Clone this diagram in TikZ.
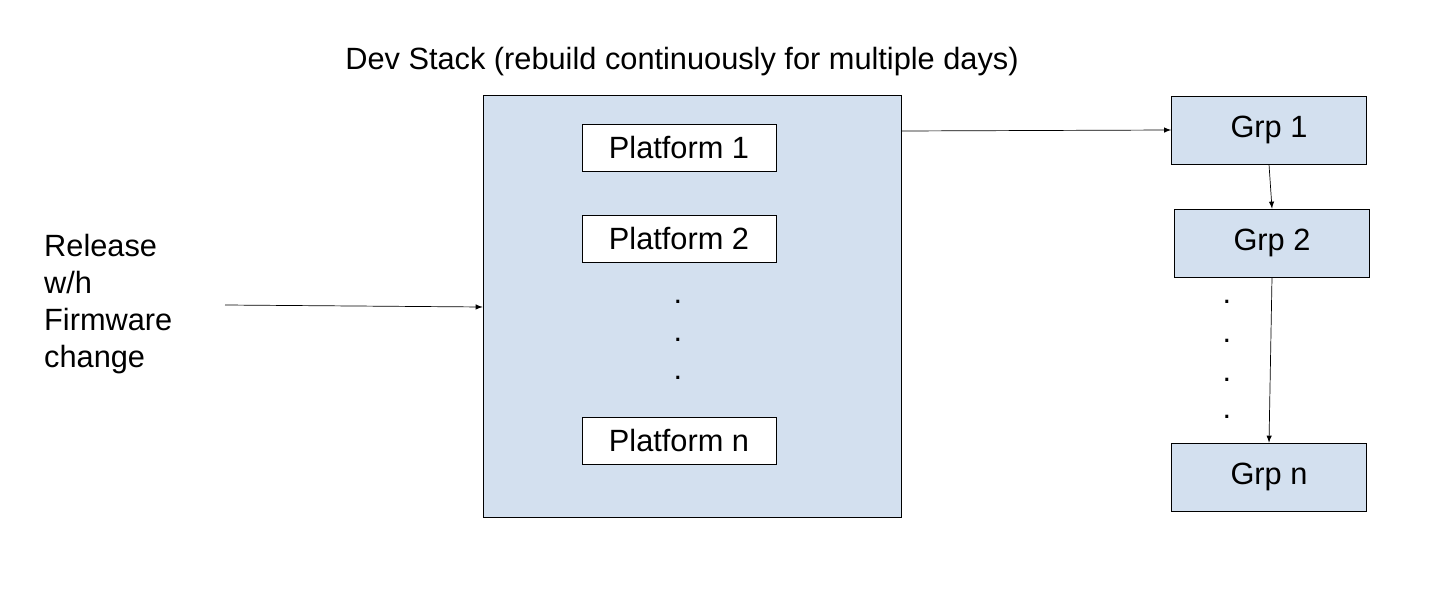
\documentclass[tikz,border=0pt]{standalone}
\usepackage{fontspec}
\setmainfont{Liberation Sans}
\usetikzlibrary{positioning}
\definecolor{stackblue}{RGB}{211,224,239}
\begin{document}
\begin{tikzpicture}[x=0.02cm,y=-0.02cm,
    font=\fontsize{17.5}{21}\selectfont,
    box/.style={draw, rectangle, fill=stackblue, inner sep=0pt},
    plat/.style={draw, rectangle, fill=white, minimum width=3.88cm, minimum height=0.94cm, inner sep=0pt},
    grp/.style={box, minimum width=3.9cm, minimum height=1.36cm},
    arr/.style={->, >=latex}]
\useasboundingbox (0,0) rectangle (1434,598);

\node [anchor=base] (title) at (682,70) {Dev Stack (rebuild continuously for multiple days)};
\node [box, minimum width=8.36cm, minimum height=8.44cm] (stack) at (692,306) {};

\node [plat] (plat1) at (679,148) {Platform 1};
\node [plat] (plat2) at (679,239) {Platform 2};
\node [plat] (platn) at (679,441) {Platform n};
\foreach \y in {302,340,378}
    \node at (678,\y) {.};

\node [align=left, anchor=west] (release) at (38,304) {Release\\w/h\\Firmware\\change};
\coordinate (relend) at (225,305);

\node [grp] (grp1) at (1269,130) {Grp 1};
\node [grp] (grp2) at (1272,243) {Grp 2};
\node [grp] (grpn) at (1269,477) {Grp n};
\foreach \y in {302,341,380,417}
    \node at (1227,\y) {.};

\draw [arr] (relend) -- (stack.west |- 0,307);
\draw [arr] (stack.east |- 0,131) -- (grp1.west);
\draw [arr] (grp1.south) -- (grp2.north);
\draw [arr] (grp2.south) -- (grpn.north);
\end{tikzpicture}
\end{document}
